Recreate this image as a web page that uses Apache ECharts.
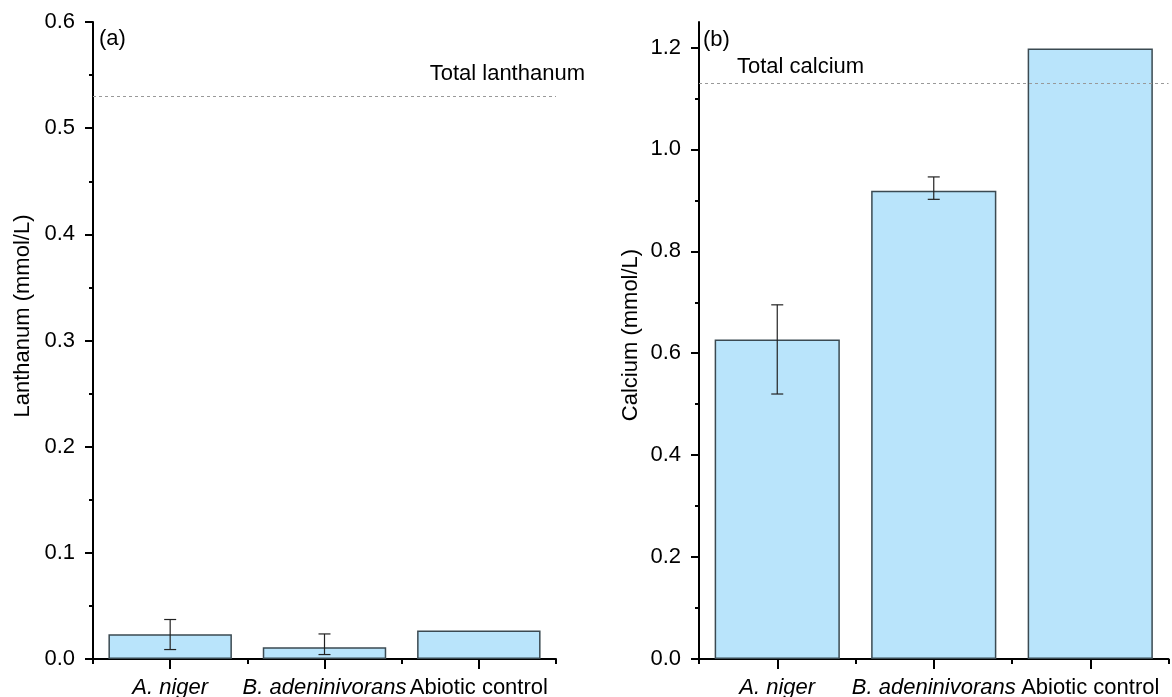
<!DOCTYPE html>
<html>
<head>
<meta charset="utf-8">
<script src="https://cdn.jsdelivr.net/npm/echarts@6/dist/echarts.min.js"></script>
<style>
  html, body { margin: 0; padding: 0; background: #fff; }
  #chart { width: 1172px; height: 697px; }
</style>
</head>
<body>
<div id="chart"></div>
<script>
// Treatments shown on both panels
const categories = ['A. niger', 'B. adeninivorans', 'Abiotic control'];
const italicCategories = ['A. niger', 'B. adeninivorans'];

// (a) Lanthanum remaining in solution (mmol/L), with error-bar limits
const lanthanumMean = [0.0233, 0.0110, 0.0268];
const lanthanumLow  = [0.0089, 0.0042, null];
const lanthanumHigh = [0.0372, 0.0236, null];
const totalLanthanum = 0.53;

// (b) Calcium remaining in solution (mmol/L), with error-bar limits
const calciumMean = [0.627, 0.919, 1.198];
const calciumLow  = [0.520, 0.902, null];
const calciumHigh = [0.695, 0.946, null];
const totalCalcium = 1.13;

// Axis ticks
const lanthanumMax = 0.6;
const calciumMax = 1.25;
const calciumMajorTicks = [0, 0.2, 0.4, 0.6, 0.8, 1.0, 1.2];
const calciumMinorTicks = [0.1, 0.3, 0.5, 0.7, 0.9, 1.1];

const FONT = '"Liberation Sans", Arial, sans-serif';
const BAR_FILL = '#b9e4fb';
const BAR_EDGE = '#3b4a52';

const chart = echarts.init(document.getElementById('chart'));

function errorData(low, high) {
  const out = [];
  low.forEach((l, i) => {
    if (l != null && high[i] != null) out.push([i, l, high[i]]);
  });
  return out;
}

function renderErrorBar(params, api) {
  const i = api.value(0);
  const top = api.coord([i, api.value(2)]);
  const bot = api.coord([i, api.value(1)]);
  const cap = 6;
  const style = { stroke: '#222', lineWidth: 1.2 };
  return {
    type: 'group',
    children: [
      { type: 'line', shape: { x1: top[0], y1: top[1], x2: bot[0], y2: bot[1] }, style },
      { type: 'line', shape: { x1: top[0] - cap, y1: top[1], x2: top[0] + cap, y2: top[1] }, style },
      { type: 'line', shape: { x1: bot[0] - cap, y1: bot[1], x2: bot[0] + cap, y2: bot[1] }, style }
    ]
  };
}

const categoryLabel = {
  margin: 18,
  interval: 0,
  formatter: v => italicCategories.includes(v) ? '{i|' + v + '}' : '{n|' + v + '}',
  rich: {
    i: { fontFamily: FONT, fontSize: 22, fontStyle: 'italic', color: '#000' },
    n: { fontFamily: FONT, fontSize: 22, color: '#000' }
  }
};

function mainXAxis(gridIndex) {
  return {
    type: 'category', gridIndex, data: categories,
    axisLine: { lineStyle: { color: '#000', width: 2 } },
    axisTick: { show: true, length: 5, lineStyle: { color: '#000', width: 2 } },
    axisLabel: categoryLabel,
    splitLine: { show: false }
  };
}
function centerTickXAxis(gridIndex) {
  return {
    type: 'category', gridIndex, data: categories, position: 'bottom', offset: 0,
    axisLine: { show: false },
    axisTick: { show: true, alignWithLabel: true, length: 10, interval: 0, lineStyle: { color: '#000', width: 2 } },
    axisLabel: { show: false },
    splitLine: { show: false }
  };
}

const valueLabel = {
  fontFamily: FONT, fontSize: 22, color: '#000', margin: 18,
  formatter: v => v.toFixed(1)
};

const option = {
  animation: false,
  backgroundColor: '#fff',
  grid: [
    { left: 93, right: 616, top: 22, bottom: 38, outerBoundsMode: 'none', containLabel: false },
    { left: 699, right: 3.5, top: 22, bottom: 38, outerBoundsMode: 'none', containLabel: false }
  ],
  xAxis: [mainXAxis(0), centerTickXAxis(0), mainXAxis(1), centerTickXAxis(1)],
  yAxis: [
    {
      type: 'value', gridIndex: 0, min: 0, max: lanthanumMax, interval: 0.1,
      axisLine: { show: true, lineStyle: { color: '#000', width: 2 } },
      axisTick: { show: true, length: 8, lineStyle: { color: '#000', width: 2 } },
      minorTick: { show: true, splitNumber: 2, length: 4, lineStyle: { color: '#000', width: 2 } },
      axisLabel: valueLabel,
      splitLine: { show: false }
    },
    {
      type: 'value', gridIndex: 1, min: 0, max: calciumMax, position: 'left',
      axisLine: { show: true, lineStyle: { color: '#000', width: 2 } },
      axisTick: { show: true, length: 8, customValues: calciumMajorTicks, lineStyle: { color: '#000', width: 2 } },
      axisLabel: Object.assign({ customValues: calciumMajorTicks }, valueLabel),
      splitLine: { show: false }
    },
    {
      type: 'value', gridIndex: 1, min: 0, max: calciumMax, position: 'left', offset: 0,
      axisLine: { show: false },
      axisTick: { show: true, length: 4, customValues: calciumMinorTicks, lineStyle: { color: '#000', width: 2 } },
      axisLabel: { show: false },
      splitLine: { show: false }
    }
  ],
  series: [
    {
      type: 'bar', xAxisIndex: 0, yAxisIndex: 0, data: lanthanumMean,
      barCategoryGap: '20%',
      itemStyle: { color: BAR_FILL, borderColor: BAR_EDGE, borderWidth: 1.5 },
      markLine: {
        silent: true, symbol: 'none', label: { show: false },
        lineStyle: { color: '#999', type: [3, 3], width: 1 },
        data: [{ yAxis: totalLanthanum }]
      }
    },
    {
      type: 'custom', xAxisIndex: 0, yAxisIndex: 0,
      data: errorData(lanthanumLow, lanthanumHigh),
      renderItem: renderErrorBar, encode: { x: 0, y: [1, 2] }, z: 5
    },
    {
      type: 'bar', xAxisIndex: 2, yAxisIndex: 1, data: calciumMean,
      barCategoryGap: '20%',
      itemStyle: { color: BAR_FILL, borderColor: BAR_EDGE, borderWidth: 1.5 },
      markLine: {
        silent: true, symbol: 'none', label: { show: false },
        lineStyle: { color: '#999', type: [3, 3], width: 1 },
        data: [{ yAxis: totalCalcium }]
      }
    },
    {
      type: 'custom', xAxisIndex: 2, yAxisIndex: 1,
      data: errorData(calciumLow, calciumHigh),
      renderItem: renderErrorBar, encode: { x: 0, y: [1, 2] }, z: 5
    }
  ],
  graphic: [
    { type: 'text', x: 23, y: 316, rotation: Math.PI / 2,
      style: { text: 'Lanthanum (mmol/L)', font: '22px ' + FONT, fill: '#000', align: 'center', verticalAlign: 'middle' } },
    { type: 'text', x: 631, y: 335, rotation: Math.PI / 2,
      style: { text: 'Calcium (mmol/L)', font: '22px ' + FONT, fill: '#000', align: 'center', verticalAlign: 'middle' } },
    { type: 'text', x: 99, y: 39,
      style: { text: '(a)', font: '22px ' + FONT, fill: '#000', align: 'left', verticalAlign: 'middle' } },
    { type: 'text', x: 703, y: 40,
      style: { text: '(b)', font: '22px ' + FONT, fill: '#000', align: 'left', verticalAlign: 'middle' } },
    { type: 'text', x: 585, y: 74,
      style: { text: 'Total lanthanum', font: '22px ' + FONT, fill: '#000', align: 'right', verticalAlign: 'middle' } },
    { type: 'text', x: 737, y: 67,
      style: { text: 'Total calcium', font: '22px ' + FONT, fill: '#000', align: 'left', verticalAlign: 'middle' } }
  ]
};

chart.setOption(option);
</script>
</body>
</html>
